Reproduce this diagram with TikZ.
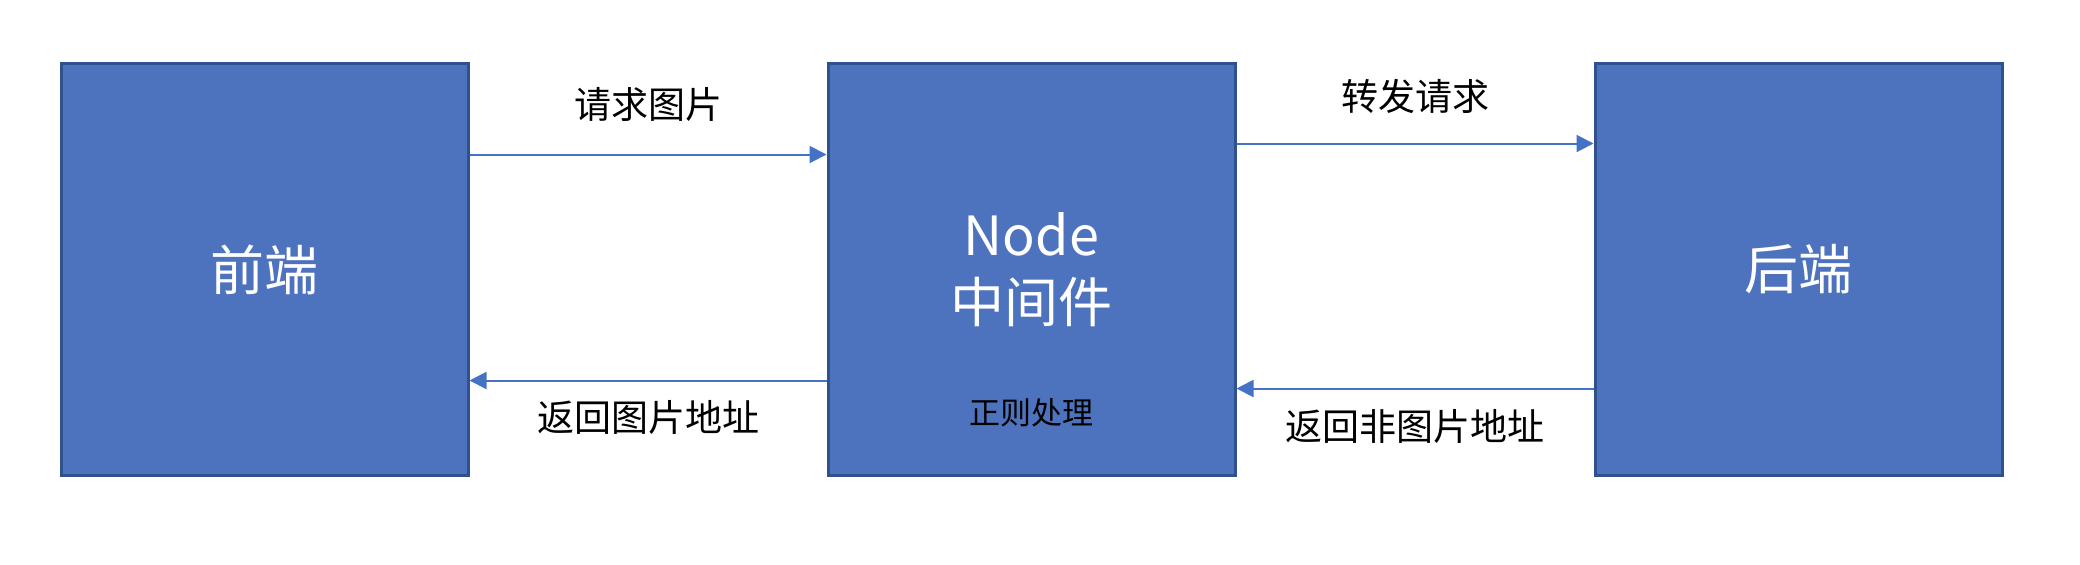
\documentclass[tikz,border=0pt]{standalone}
\usepackage{fontspec}
\setmainfont{Noto Sans CJK SC}
\usetikzlibrary{positioning, arrows.meta, calc}

\definecolor{boxfill}{HTML}{4E73BE}
\definecolor{boxline}{HTML}{2F528F}
\definecolor{arrowblue}{HTML}{4472C4}

\begin{document}
\begin{tikzpicture}[x=0.5pt, y=-0.5pt, node distance = 178.5pt,
block/.style={rectangle, draw=boxline, fill=boxfill, line width=1.5pt, minimum width=203.5pt, minimum height=206pt, text=white, align=center, font=\fontsize{27}{33.5}\selectfont},
path/.style={-{Triangle[length=8.5pt, width=8.5pt]}, draw=arrowblue, line width=1pt},
label/.style={font=\fontsize{18.5}{22}\selectfont, text=black},
]
\useasboundingbox (0,0) rectangle (2080,564);

%Nodes
\node [block] (front) at (264.5, 269.5) {前端};
\node [block] (mid) [right = of front] {Node\\中间件};
\node [block] (back) [right = of mid] {后端};
\node [font=\fontsize{15.5}{18}\selectfont, text=black, yshift=32pt] (regex) at (mid.south) {正则处理};

% Paths
\draw [path] ([yshift=-46.25pt]front.north east) to node[label, midway, yshift=25pt] {请求图片} ([yshift=-46.25pt]mid.north west);
\draw [path] ([yshift=-159.25pt]mid.north west) to node[label, midway, yshift=-18.5pt] {返回图片地址} ([yshift=-159.25pt]front.north east);
\draw [path] ([yshift=-40.75pt]mid.north east) to node[label, midway, yshift=23.5pt] {转发请求} ([yshift=-40.75pt]back.north west);
\draw [path] ([yshift=-163.25pt]back.north west) to node[label, midway, yshift=-19pt] {返回非图片地址} ([yshift=-163.25pt]mid.north east);
\end{tikzpicture}
\end{document}
